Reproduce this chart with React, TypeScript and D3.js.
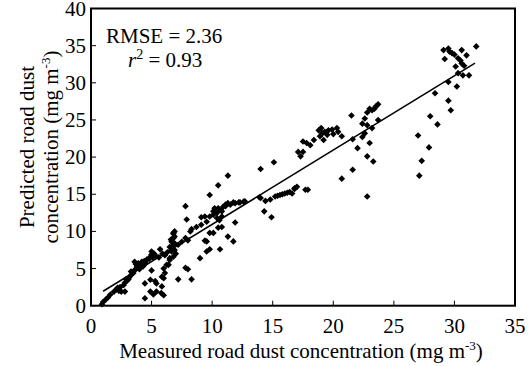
import React from "react";
import * as d3 from "d3";

const measured: number[] = [
  0.9,1.0,1.2,1.4,1.6,1.9,2.1,2.3,2.5,2.8,2.4,2.7,2.8,3.0,3.1,3.2,3.35,3.5,3.6,3.8,3.9,4.0,4.2,4.3,4.5,4.6,4.9,5.0,3.7,4.1,3.3,2.9,2.2,3.6,4.4,4.8,5.1,5.2,
  4.45,4.45,4.9,5.15,5.4,5.8,4.9,5.3,5.0,5.85,6.0,6.0,5.4,5.85,6.1,6.0,6.4,6.5,6.8,6.65,
  6.25,6.5,6.65,6.8,6.8,6.9,6.8,6.65,6.9,6.5,6.9,7.2,7.5,5.7,5.3,5.0,6.8,6.9,7.0,6.6,6.3,6.1,5.6,5.9,
  7.8,8.0,7.2,8.3,9.0,9.55,9.55,9.4,9.8,10.65,9.8,10.1,10.5,11.3,11.75,11.9,10.8,
  7.8,7.9,8.0,7.8,8.2,8.3,8.7,9.1,9.1,9.4,9.55,9.8,10.1,10.1,10.4,10.5,10.8,10.8,10.9,11.1,11.1,11.3,11.5,11.75,11.9,12.2,12.3,12.6,12.7,10.5,10.2,10.4,9.8,10.5,11.3,14.0,15.1,10.6,
  14.0,14.4,14.8,15.2,15.6,16.0,16.4,16.8,17.0,14.3,14.9,16.8,16.6,17.7,17.9,15.4,15.8,16.2,13.9,
  17.1,17.5,17.8,18.4,18.1,17.5,17.3,18.8,19.0,19.3,19.5,19.2,19.9,20.3,20.4,20.0,20.7,19.1,19.6,18.9,
  21.5,22.6,22.8,23.2,23.5,23.7,23.7,22.4,22.8,23.2,22.6,22.4,21.6,23.0,22.0,22.8,23.3,21.6,20.7,22.8,23.4,23.0,
  27.0,27.9,27.3,27.1,28.0,28.6,28.4,29.5,29.7,29.5,30.2,30.3,30.7,30.1,30.6,30.5,30.3,31.0,30.6,29.2,29.8,29.5,29.1,31.8,30.0,29.6,30.8,31.2,
];
const predicted: number[] = [
  0.2,0.5,0.8,1.1,1.5,1.9,2.2,2.0,1.9,1.9,2.5,2.8,3.1,3.4,3.6,3.9,4.2,4.4,4.8,5.3,5.7,4.9,5.9,5.3,5.7,6.2,6.6,6.9,5.6,5.4,4.6,3.6,2.4,5.9,6.0,6.3,6.5,7.0,
  1.0,3.0,1.9,1.5,1.9,1.7,3.5,3.3,4.75,3.9,3.7,1.4,3.0,2.6,4.4,5.0,5.5,6.15,6.6,7.3,
  5.5,6.4,7.55,8.2,9.1,9.3,9.7,8.6,8.4,7.9,7.5,8.2,8.6,7.6,6.8,7.3,9.8,10.0,7.0,8.9,7.2,6.8,6.5,7.0,
  5.1,4.9,3.55,3.55,6.4,7.3,8.65,8.75,7.6,7.6,9.8,9.8,10.5,9.3,8.65,11.2,10.6,
  13.4,11.6,8.8,9.1,10.0,10.3,10.6,10.9,11.9,12.0,11.3,12.0,12.7,12.25,12.5,13.0,12.7,12.0,13.3,13.4,13.6,13.8,13.6,13.9,13.8,13.9,13.9,14.0,14.05,13.1,13.1,11.8,14.9,16.2,17.5,18.4,19.3,11.5,
  14.5,14.1,14.3,14.7,14.9,15.1,15.3,15.7,16.0,12.7,11.9,15.8,15.1,15.6,15.6,14.8,15.0,15.2,14.6,
  20.7,22.1,21.9,22.3,21.6,20.7,20.1,23.6,23.9,23.4,23.0,22.3,23.7,23.9,23.4,23.1,22.8,23.2,23.6,22.8,
  25.6,25.2,26.0,26.3,26.8,27.1,25.0,24.5,24.3,23.9,23.2,22.7,22.4,21.9,21.2,20.1,19.4,18.3,17.1,14.7,26.5,26.5,
  22.9,21.3,19.5,17.5,25.5,24.4,28.6,27.6,26.3,30.1,29.5,31.3,31.0,32.2,32.6,33.0,33.3,33.7,34.4,33.2,34.0,34.6,34.4,34.9,33.8,34.2,32.3,31.0,
];

const xTicks = [0, 5, 10, 15, 20, 25, 30, 35];
const yTicks = [0, 5, 10, 15, 20, 25, 30, 35, 40];
const fitSlope = 1.0;
const fitIntercept = 0.95;
const fitRange = [1.0, 31.7];

const W = 530, H = 366;
const L = 91, R = 515, T = 8.5, B = 305.7;
const FONT = "Liberation Serif, DejaVu Serif, serif";
const ts = { fontFamily: FONT };

export default function App() {
  const x = d3.scaleLinear().domain([0, 35]).range([L, R]);
  const y = d3.scaleLinear().domain([0, 40]).range([B, T]);
  const sym = d3.symbol(d3.symbolSquare, 22)();
  const pts = measured.map((m, i) => [m, predicted[i]] as [number, number]);
  const fit = d3.line<number>().x((v) => x(v)).y((v) => y(fitSlope * v + fitIntercept));
  return (
    <svg width={W} height={H} style={{ position: "absolute", left: 0, top: 0, background: "#fff" }}>
      <rect x={0} y={0} width={W} height={H} fill="#fff" />
      {pts.map((p, i) => (
        <path key={i} d={sym!} transform={`translate(${x(p[0])},${y(p[1])}) rotate(45)`} fill="#000" />
      ))}
      <path d={fit(fitRange)!} stroke="#000" strokeWidth={1.6} fill="none" />
      {xTicks.map((t) => (
        <g key={"x" + t}>
          <line x1={x(t)} x2={x(t)} y1={B} y2={B - 5} stroke="#000" strokeWidth={1} />
          <text x={x(t)} y={333} textAnchor="middle" fontSize={21} style={ts}>{t}</text>
        </g>
      ))}
      {yTicks.map((t) => (
        <g key={"y" + t}>
          <line x1={L} x2={L + 5} y1={y(t)} y2={y(t)} stroke="#000" strokeWidth={1} />
          <text x={86} y={y(t) + 7} textAnchor="end" fontSize={21} style={ts}>{t}</text>
        </g>
      ))}
      <rect x={L} y={T} width={R - L} height={B - T} fill="none" stroke="#000" strokeWidth={2} />
      <text x={106} y={43} fontSize={21} style={ts}>RMSE = 2.36</text>
      <text x={128} y={67} fontSize={21} style={ts}>
        <tspan fontStyle="italic">r</tspan>
        <tspan fontSize={14} dy={-8}>2</tspan>
        <tspan dy={8}> = 0.93</tspan>
      </text>
      <text x={301} y={358} textAnchor="middle" fontSize={21} style={ts}>
        Measured road dust concentration (mg m<tspan fontSize={13} dy={-8}>-3</tspan><tspan dy={8}>)</tspan>
      </text>
      <g transform="translate(34,147) rotate(-90)">
        <text x={0} y={0} textAnchor="middle" fontSize={21} style={ts}>Predicted road dust</text>
        <text x={0} y={24} textAnchor="middle" fontSize={21} style={ts}>
          concentration (mg m<tspan fontSize={13} dy={-8}>-3</tspan><tspan dy={8}>)</tspan>
        </text>
      </g>
    </svg>
  );
}
